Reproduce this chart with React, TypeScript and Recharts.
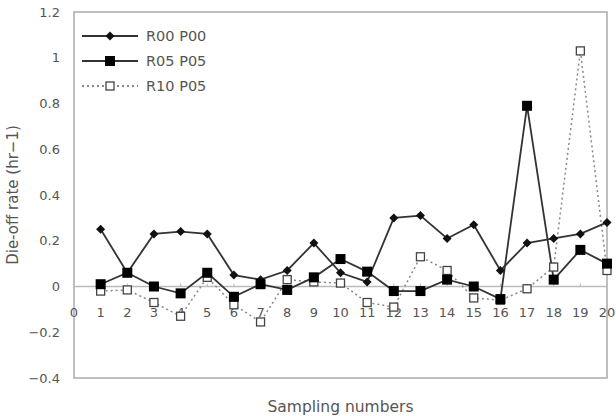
import React from 'react';
import {
  LineChart,
  Line,
  XAxis,
  YAxis,
  ReferenceLine,
  ReferenceArea,
  ReferenceDot,
  Legend,
} from 'recharts';

const samples = [1, 2, 3, 4, 5, 6, 7, 8, 9, 10, 11, 12, 13, 14, 15, 16, 17, 18, 19, 20];
const r00p00 = [0.25, 0.06, 0.23, 0.24, 0.23, 0.05, 0.03, 0.07, 0.19, 0.06, 0.02, 0.3, 0.31, 0.21, 0.27, 0.07, 0.19, 0.21, 0.23, 0.28];
const r05p05 = [0.01, 0.06, 0.0, -0.03, 0.06, -0.045, 0.01, -0.015, 0.04, 0.12, 0.065, -0.02, -0.02, 0.03, 0.0, -0.055, 0.79, 0.03, 0.16, 0.1];
const r10p05 = [-0.02, -0.015, -0.07, -0.13, 0.04, -0.08, -0.155, 0.03, 0.02, 0.015, -0.07, -0.09, 0.13, 0.07, -0.05, -0.06, -0.01, 0.085, 1.03, 0.07];
const seriesNames = ['R00 P00', 'R05 P05', 'R10 P05'];
const yTicks = [-0.4, -0.2, 0, 0.2, 0.4, 0.6, 0.8, 1, 1.2];
const xTicks = [0, 1, 2, 3, 4, 5, 6, 7, 8, 9, 10, 11, 12, 13, 14, 15, 16, 17, 18, 19, 20];

const data = samples.map((s, i) => ({
  n: s,
  a: r00p00[i],
  b: r05p05[i],
  c: r10p05[i],
}));

const FONT = 'DejaVu Sans';
const TXT = '#555';

const fmt = (v: number) => (v < 0 ? '\u2212' + String(Math.abs(v)) : String(v));

function Diamond({ cx, cy }: any) {
  if (cx == null || cy == null) return null;
  const r = 4.5;
  return <path d={`M${cx},${cy - r}L${cx + r},${cy}L${cx},${cy + r}L${cx - r},${cy}Z`} fill="#111" />;
}

function FilledSquare({ cx, cy }: any) {
  if (cx == null || cy == null) return null;
  return <rect x={cx - 5} y={cy - 5} width={10} height={10} fill="#000" />;
}

function OpenSquare({ cx, cy }: any) {
  if (cx == null || cy == null) return null;
  return <rect x={cx - 4} y={cy - 4} width={8} height={8} fill="#fff" stroke="#444" strokeWidth={1.3} />;
}

function XTickMark(props: any) {
  const { cx, cy, label } = props;
  return (
    <g>
      <line x1={cx} y1={cy} x2={cx} y2={cy - 3} stroke="#bbb" />
      <text x={cx} y={cy + 30} textAnchor="middle" fontFamily={FONT} fontSize={13} fill={TXT}>
        {label}
      </text>
    </g>
  );
}

function LegendBox() {
  const rows = [
    { name: seriesNames[0], dash: undefined, Marker: Diamond, color: '#333' },
    { name: seriesNames[1], dash: undefined, Marker: FilledSquare, color: '#333' },
    { name: seriesNames[2], dash: '2 3', Marker: OpenSquare, color: '#888' },
  ];
  return (
    <svg width={140} height={80}>
      {rows.map((r, i) => {
        const y = 10 + i * 25;
        return (
          <g key={r.name}>
            <line x1={2} x2={58} y1={y} y2={y} stroke={r.color} strokeWidth={2} strokeDasharray={r.dash} />
            <r.Marker cx={30} cy={y} />
            <text x={66} y={y + 5} fontFamily={FONT} fontSize={14.5} fill={TXT}>
              {r.name}
            </text>
          </g>
        );
      })}
    </svg>
  );
}

export default function App() {
  return (
    <div style={{ position: 'absolute', left: 0, top: 0, background: '#fff' }}>
      <LineChart width={616} height={416} data={data} margin={{ top: 12, right: 9, bottom: 0, left: 0 }}>
        <XAxis
          dataKey="n"
          type="number"
          domain={[0, 20]}
          ticks={xTicks}
          tick={false}
          axisLine={false}
          tickLine={false}
          height={38}
          label={{
            value: 'Sampling numbers',
            position: 'insideBottom',
            offset: 4,
            fontFamily: FONT,
            fontSize: 15.5,
            fill: TXT,
          }}
        />
        <YAxis
          type="number"
          domain={[-0.4, 1.2]}
          ticks={yTicks}
          width={74}
          tickFormatter={fmt}
          tickLine={false}
          tickSize={8}
          tickMargin={6}
          axisLine={false}
          tick={{ fontFamily: FONT, fontSize: 13, fill: TXT }}
          label={{
            value: 'Die-off rate (hr\u22121)',
            angle: -90,
            position: 'insideLeft',
            offset: 13,
            fontFamily: FONT,
            fontSize: 15,
            fill: TXT,
            style: { textAnchor: 'middle' },
          }}
        />
        <ReferenceArea x1={0} x2={20} y1={-0.4} y2={1.2} fill="none" stroke="#aaa" strokeWidth={1.5} />
        <ReferenceLine y={0} stroke="#bbb" strokeWidth={1.5} />
        {xTicks.map((t) => (
          <ReferenceDot key={t} x={t} y={0} r={0} shape={(p: any) => <XTickMark {...p} label={t} />} />
        ))}
        <Legend
          layout="vertical"
          align="center"
          verticalAlign="middle"
          wrapperStyle={{ left: 80, top: 26, width: 140, height: 80 }}
          content={() => <LegendBox />}
        />
        <Line
          dataKey="c"
          name={seriesNames[2]}
          stroke="#888"
          strokeWidth={1.5}
          strokeDasharray="2 3"
          dot={<OpenSquare />}
          isAnimationActive={false}
        />
        <Line
          dataKey="a"
          name={seriesNames[0]}
          stroke="#333"
          strokeWidth={1.8}
          dot={<Diamond />}
          isAnimationActive={false}
        />
        <Line
          dataKey="b"
          name={seriesNames[1]}
          stroke="#333"
          strokeWidth={1.8}
          dot={<FilledSquare />}
          isAnimationActive={false}
        />
      </LineChart>
    </div>
  );
}
